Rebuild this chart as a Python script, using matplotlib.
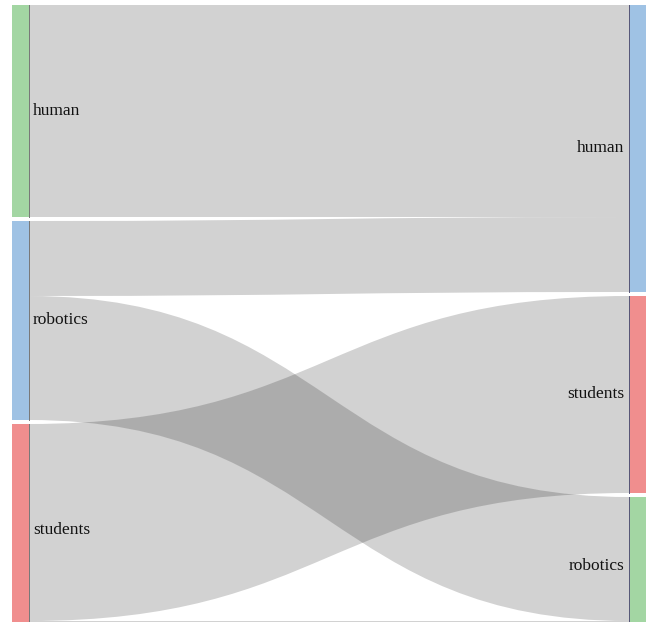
import matplotlib
matplotlib.use("Agg")
import matplotlib.pyplot as plt
from matplotlib.path import Path
from matplotlib.patches import PathPatch, Rectangle

# ---- data ----
left_nodes = ["human", "robotics", "students"]
right_nodes = ["human", "students", "robotics"]
flow_source = ["human", "robotics", "robotics", "students", "students"]
flow_target = ["human", "human", "robotics", "students", "robotics"]
flow_value = [212, 75, 124, 197, 15]
left_colors = ["#a3d6a3", "#9fc2e4", "#f08e8e"]
right_colors = ["#9fc2e4", "#f08e8e", "#a3d6a3"]

W, H = 650, 622
fig = plt.figure(figsize=(W / 100, H / 100), dpi=100)
ax = fig.add_axes([0, 0, 1, 1])
ax.set_xlim(0, W)
ax.set_ylim(617, -5)
ax.axis("off")

gap = 4
lx0, lx1 = 12, 28.5
rx0, rx1 = 629, 646


def stack(nodes, side):
    tot = {}
    for s, t, v in zip(flow_source, flow_target, flow_value):
        k = s if side == "L" else t
        tot[k] = tot.get(k, 0) + v
    pos = {}
    y = 0
    for n in nodes:
        pos[n] = [y, y + tot[n]]
        y += tot[n] + gap
    return pos


lpos = stack(left_nodes, "L")
rpos = stack(right_nodes, "R")

# flows
lcur = {n: lpos[n][0] for n in left_nodes}
rcur = {n: rpos[n][0] for n in right_nodes}
xm = (lx1 + rx0) / 2
for s, t, v in zip(flow_source, flow_target, flow_value):
    ly0 = lcur[s]; ly1 = ly0 + v; lcur[s] = ly1
    ry0 = rcur[t]; ry1 = ry0 + v; rcur[t] = ry1
    verts = [(lx1, ly0), (xm, ly0), (xm, ry0), (rx0, ry0),
             (rx0, ry1), (xm, ry1), (xm, ly1), (lx1, ly1), (lx1, ly0)]
    codes = [Path.MOVETO, Path.CURVE4, Path.CURVE4, Path.CURVE4,
             Path.LINETO, Path.CURVE4, Path.CURVE4, Path.CURVE4, Path.CLOSEPOLY]
    ax.add_patch(PathPatch(Path(verts, codes), facecolor="black",
                           alpha=0.175, edgecolor="none", zorder=1))

# nodes
for n, c in zip(left_nodes, left_colors):
    y0, y1 = lpos[n]
    ax.add_patch(Rectangle((lx0, y0), lx1 - lx0, y1 - y0, facecolor=c,
                           edgecolor="none", zorder=2))
    ax.plot([lx1, lx1], [y0, y1], color="#777777", lw=0.7, zorder=3)
    ax.text(lx1 + 4.5, (y0 + y1) / 2, n, ha="left", va="center",
            fontsize=12.5, family="Liberation Serif", color="#111111", zorder=4)

for n, c in zip(right_nodes, right_colors):
    y0, y1 = rpos[n]
    ax.add_patch(Rectangle((rx0, y0), rx1 - rx0, y1 - y0, facecolor=c,
                           edgecolor="none", zorder=2))
    ax.plot([rx0, rx0], [y0, y1], color="#555577", lw=0.7, zorder=3)
    ax.text(rx0 - 4.5, (y0 + y1) / 2, n, ha="right", va="center",
            fontsize=12.5, family="Liberation Serif", color="#111111", zorder=4)

fig.savefig("out.png", dpi=100, facecolor="white")
